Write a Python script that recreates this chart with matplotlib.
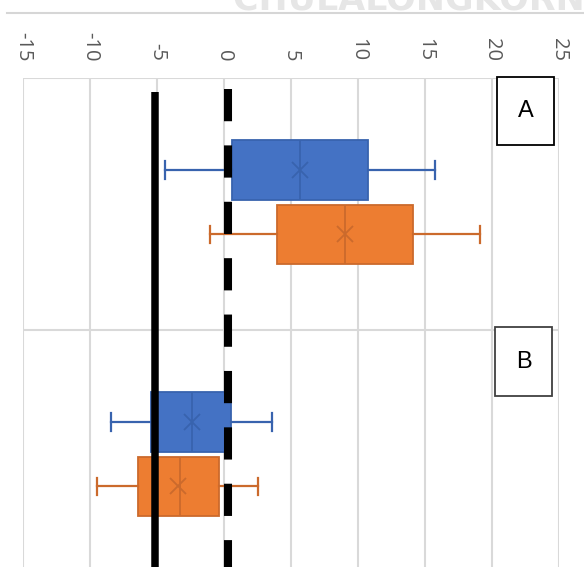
import matplotlib

matplotlib.use("Agg")
import matplotlib.pyplot as plt
from matplotlib.patches import Rectangle

# values (horizontal box plots, two groups)
groups = ["A", "B"]
series_names = ["blue", "orange"]
series_colors = ["#4472C4", "#ED7D31"]
line_colors = ["#3863AE", "#CB6A2C"]

whislo = [[-4.4, -1.05], [-8.4, -9.5]]
q1 = [[0.6, 3.95], [-5.45, -6.4]]
median = [[5.7, 9.0], [-2.4, -3.3]]
mean = [[5.7, 9.0], [-2.4, -3.4]]
q3 = [[10.75, 14.1], [0.5, -0.4]]
whishi = [[15.75, 19.1], [3.6, 2.5]]

solid_ref = -5.15
dashed_ref = 0.3
x_ticks = [-15, -10, -5, 0, 5, 10, 15, 20, 25]

W, H = 584, 567
fig = plt.figure(figsize=(W / 100, H / 100), dpi=100)
# plot area spans px x 23..559, y 78..582 (bottom runs off the canvas)
ax = fig.add_axes([23 / W, 1 - 582 / H, 536 / W, 504 / H])

ax.set_xlim(-15, 25)
ax.set_ylim(1.5, -0.5)
for s in ax.spines.values():
    s.set_visible(False)

ax.set_xticks(x_ticks)
ax.set_xticklabels([str(t) for t in x_ticks])
ax.xaxis.tick_top()
ax.tick_params(axis="x", length=0, pad=12, labelrotation=-90, labelsize=14.5,
               labelcolor="#595959")
for lab in ax.get_xticklabels():
    lab.set_fontfamily("Open Sans")
    lab.set_va("bottom")
ax.set_yticks([])
ax.grid(axis="x", color="#D9D9D9", linewidth=1.5)
ax.set_axisbelow(True)
for yb in (-0.5, 0.5):
    ax.axhline(yb, color="#D9D9D9", linewidth=1.5, zorder=0)

offsets = [-0.135, 0.12]
for si in range(len(series_names)):
    stats = []
    for gi in range(len(groups)):
        stats.append({
            "whislo": whislo[gi][si], "q1": q1[gi][si], "med": median[gi][si],
            "mean": mean[gi][si], "q3": q3[gi][si], "whishi": whishi[gi][si],
            "fliers": [],
        })
    pos = [gi + offsets[si] for gi in range(len(groups))]
    ax.bxp(stats, positions=pos, widths=0.235, orientation="horizontal",
           patch_artist=True, showmeans=True, showfliers=False,
           manage_ticks=False, capwidths=0.068, zorder=2,
           boxprops=dict(facecolor=series_colors[si], edgecolor=line_colors[si], linewidth=1.3),
           whiskerprops=dict(color=line_colors[si], linewidth=1.6),
           capprops=dict(color=line_colors[si], linewidth=1.6),
           medianprops=dict(color=line_colors[si], linewidth=1.3),
           meanprops=dict(marker="x", markersize=11, markeredgecolor=line_colors[si],
                          markeredgewidth=1.3))

# reference lines drawn over the boxes
ax.plot([solid_ref, solid_ref], [-0.444, 1.6], color="black", linewidth=5.4,
        solid_capstyle="butt", zorder=5)
ax.plot([dashed_ref, dashed_ref], [-0.456, 1.6], color="black", linewidth=5.8,
        linestyle=(0, (4, 3)), dash_capstyle="butt", zorder=5)

# group label boxes (pixel layout)
for label, (x0, y0, x1, y1), ec in (("A", (497, 77, 554, 145), "black"),
                                      ("B", (495, 327, 552, 396), "#404040")):
    fig.patches.append(Rectangle((x0 / W, 1 - y1 / H), (x1 - x0) / W, (y1 - y0) / H,
                                 transform=fig.transFigure, facecolor="white",
                                 edgecolor=ec, linewidth=1.3, zorder=6))
    fig.text((x0 + x1) / 2 / W, 1 - (y0 + y1) / 2 / H, label, ha="center", va="center",
             fontsize=17, family="Liberation Sans", zorder=7)

# page furniture above the chart (watermark is cut by the top edge, as in the source)
fig.add_artist(plt.Line2D([7 / W, 1], [1 - 13 / H, 1 - 13 / H], color="#D6D6D6",
                          linewidth=1.5, transform=fig.transFigure))
fig.text(233 / W, 1 - 9 / H, "CHULALONGKORN U", ha="left", va="baseline",
         fontsize=25, fontweight="bold", color="#E6E6E6")

fig.savefig("out.png", dpi=100)
